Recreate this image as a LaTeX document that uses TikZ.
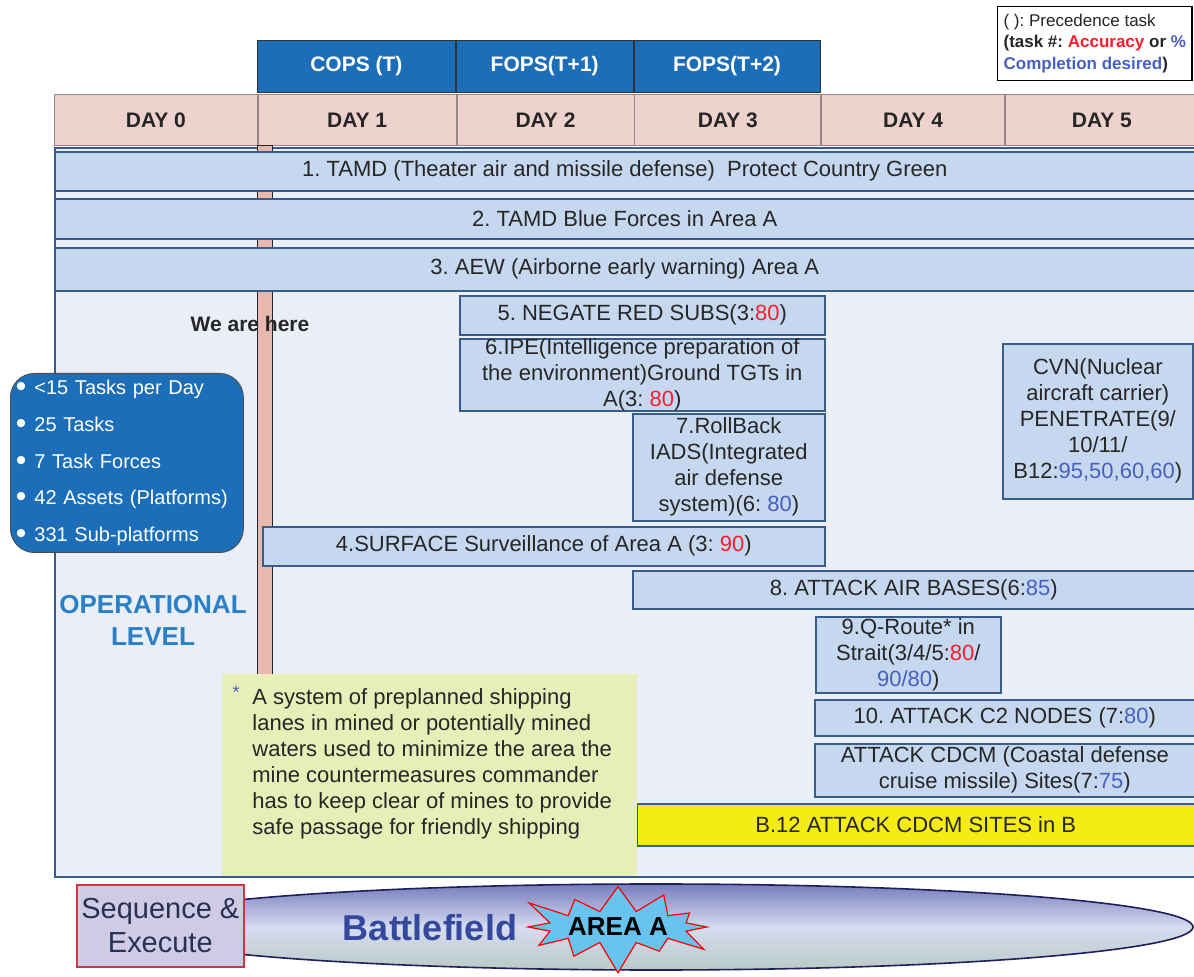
\documentclass[tikz,border=0pt]{standalone}
\usepackage{fontspec}
\setmainfont{Liberation Sans}
\usepackage{xcolor}
\usepackage{tikz}
\usetikzlibrary{positioning,shapes.geometric,shapes.symbols}

\definecolor{hdrblue}{RGB}{27,110,183}
\definecolor{daypink}{RGB}{238,210,206}
\definecolor{dayline}{RGB}{150,135,135}
\definecolor{bandfill}{RGB}{198,216,239}
\definecolor{bandline}{RGB}{56,93,138}
\definecolor{areafill}{RGB}{233,238,247}
\definecolor{barpink}{RGB}{230,184,176}
\definecolor{notefill}{RGB}{232,238,184}
\definecolor{sitesyellow}{RGB}{245,236,22}
\definecolor{accred}{RGB}{250,30,45}
\definecolor{cmpblue}{RGB}{72,96,190}
\definecolor{txtdark}{RGB}{38,38,38}
\definecolor{opblue}{RGB}{42,128,198}
\definecolor{fieldblue}{RGB}{52,72,158}
\definecolor{seqfill}{RGB}{207,203,230}
\definecolor{seqline}{RGB}{205,55,65}
\definecolor{seqtext}{RGB}{42,48,82}
\definecolor{ellline}{RGB}{30,32,90}
\definecolor{elltop}{RGB}{118,124,190}
\definecolor{ellmid}{RGB}{214,220,240}
\definecolor{ellbot}{RGB}{186,202,198}
\definecolor{burstfill}{RGB}{104,196,238}

\newcommand{\accnum}[1]{\textcolor{accred}{#1}}
\newcommand{\cmpnum}[1]{\textcolor{cmpblue}{#1}}
\newcommand{\statdot}{{\fontsize{15}{10}\selectfont\raisebox{-1pt}{\textbullet}}\hspace{4pt}}
\frenchspacing

\begin{document}
\begin{tikzpicture}[x=0.5pt,y=-0.5pt,
    every node/.style={text=txtdark},
    hdr/.style={draw=black!80,fill=hdrblue,text=white,font=\fontsize{10.5}{12}\selectfont\bfseries,minimum height=26pt,inner sep=0pt},
    daycell/.style={draw=dayline,fill=daypink,font=\fontsize{10.5}{12}\selectfont\bfseries,minimum height=25.5pt,inner sep=0pt},
    band/.style={anchor=north west,draw=bandline,line width=0.8pt,fill=bandfill,font=\fontsize{11}{13}\selectfont,minimum width=570pt,inner sep=0pt},
    task/.style={anchor=north west,draw=bandline,line width=0.8pt,fill=bandfill,font=\fontsize{11}{13}\selectfont,align=center,inner xsep=2pt,inner ysep=0pt}]
  \useasboundingbox (0,0) rectangle (1194,977);

  \node[hdr,anchor=north west,minimum width=99pt] (cops) at (257,40) {COPS (T)};
  \node[hdr,minimum width=88.5pt,right=0pt of cops] (fopsa) {FOPS(T+1)};
  \node[hdr,minimum width=93pt,right=0pt of fopsa] (fopsb) {FOPS(T+2)};

  \node[daycell,anchor=north west,minimum width=101.5pt] (day0) at (54,94) {DAY 0};
  \node[daycell,minimum width=99pt,right=0pt of day0] (day1) {DAY 1};
  \node[daycell,minimum width=88.5pt,right=0pt of day1] (day2) {DAY 2};
  \node[daycell,minimum width=93pt,right=0pt of day2] (day3) {DAY 3};
  \node[daycell,minimum width=91.5pt,right=0pt of day3] (day4) {DAY 4};
  \node[daycell,minimum width=96.5pt,right=0pt of day4] (day5) {DAY 5};

  \node[anchor=north west,draw=bandline,line width=0.8pt,fill=areafill,minimum width=570pt,minimum height=364.5pt,inner sep=0pt] (area) at (54,147) {};
  \draw[fill=barpink,draw=black!85,line width=0.5pt] (257,146) rectangle (272,700);

  \node[band,minimum height=19.5pt] (tamd) at (54,151) {1. TAMD (Theater air and missile defense)\ \ Protect Country Green};
  \node[band,minimum height=20pt] (tamdblue) at (54,198) {2. TAMD Blue Forces in Area A};
  \node[band,minimum height=21.5pt] (aew) at (54,247) {3. AEW (Airborne early warning) Area A};

  \node[font=\fontsize{10.5}{12}\selectfont\bfseries] (here) at (250,324) {We are here};

  \node[task,minimum width=182.5pt,minimum height=19.5pt] (subs) at (459,295) {5. NEGATE RED SUBS(3:\accnum{80})};
  \node[task,minimum width=182.5pt,minimum height=35pt] (ipe) at (459,338) {6.IPE(Intelligence preparation of\\the environment)Ground TGTs in\\A(3: \accnum{80})};
  \node[task,minimum width=96pt,minimum height=53.5pt] (iads) at (632,413) {7.RollBack\\IADS(Integrated\\air defense\\system)(6: \cmpnum{80})};
  \node[task,minimum width=281pt,minimum height=19.5pt] (surface) at (262,526) {4.SURFACE Surveillance of Area A (3: \accnum{90})};
  \node[task,minimum width=95pt,minimum height=77.5pt] (cvn) at (1002,343) {CVN(Nuclear\\aircraft carrier)\\PENETRATE(9/\\10/11/\\B12:\cmpnum{95,50,60,60})};
  \node[task,minimum width=281pt,minimum height=19pt] (airbases) at (632,570) {8. ATTACK AIR BASES(6:\cmpnum{85})};
  \node[task,minimum width=92.5pt,minimum height=38pt] (qroute) at (815,616) {9.Q-Route* in\\Strait(3/4/5:\accnum{80}/\\\cmpnum{90/80})};
  \node[task,minimum width=190pt,minimum height=18pt] (ctwo) at (814,699) {10. ATTACK C2 NODES (7:\cmpnum{80})};
  \node[task,minimum width=190pt,minimum height=26.5pt] (cdcm) at (814,743) {ATTACK CDCM (Coastal defense\\cruise missile) Sites(7:\cmpnum{75})};
  \node[task,fill=sitesyellow,minimum width=279pt,minimum height=21pt] (sites) at (636,803) {B.12 ATTACK CDCM SITES in B};

  \node[anchor=north west,fill=notefill,minimum width=207.5pt,minimum height=101pt,inner sep=0pt] (note) at (222,674) {};
  \node[text=cmpblue,font=\fontsize{9}{10}\selectfont] (noteast) at (236,692) {*};
  \node[anchor=north west,align=left,font=\fontsize{11}{13}\selectfont,inner sep=0pt] (notetext) at (252,688) {A system of preplanned shipping\\lanes in mined or potentially mined\\waters used to minimize the area the\\mine countermeasures commander\\has to keep clear of mines to provide\\safe passage for friendly shipping};

  \node[anchor=north west,draw=black!70,fill=hdrblue,rounded corners=12pt,minimum width=116.5pt,minimum height=89pt,text width=111pt,align=left,inner xsep=2.5pt,text=white,font=\fontsize{10}{18.4}\selectfont] (stats) at (10,373) {\statdot<15 Tasks per Day\\\statdot 25 Tasks\\\statdot 7 Task Forces\\\statdot 42 Assets (Platforms)\\\statdot 331 Sub-platforms};
  \node[align=center,text=opblue,font=\fontsize{13}{16}\selectfont\bfseries] (oplevel) at (153,620) {OPERATIONAL\\LEVEL};

  \node[anchor=north west,draw=black,fill=white,line width=0.6pt,minimum width=96.5pt,minimum height=37pt,align=left,inner xsep=3pt,font=\fontsize{8.5}{10.75}\selectfont] (legend) at (997,6) {( ): Precedence task\\\textbf{(task \#: \accnum{Accuracy} or \cmpnum{\%}}\\\textbf{\cmpnum{Completion desired})}};

  \node[ellipse,draw=ellline,line width=0.8pt,top color=elltop,bottom color=ellbot,middle color=ellmid,minimum width=537pt,minimum height=43pt,inner sep=0pt] (field) at (656,927) {};
  \node[anchor=north west,draw=seqline,fill=seqfill,line width=0.8pt,minimum width=83.5pt,minimum height=41pt,align=center,text=seqtext,font=\fontsize{14.5}{17}\selectfont,inner sep=0pt] (seq) at (76,884) {Sequence \&\\Execute};
  \node[text=fieldblue,font=\fontsize{18}{20}\selectfont\bfseries] (battle) at (430,928) {Battlefield};
  \node[starburst,starburst points=12,starburst point height=17pt,draw=red,fill=burstfill,line width=0.6pt,minimum width=92pt,minimum height=50pt,font=\fontsize{13}{14}\selectfont\bfseries,text=black,inner sep=0pt] (areaa) at (618,927) {AREA A};
\end{tikzpicture}
\end{document}
